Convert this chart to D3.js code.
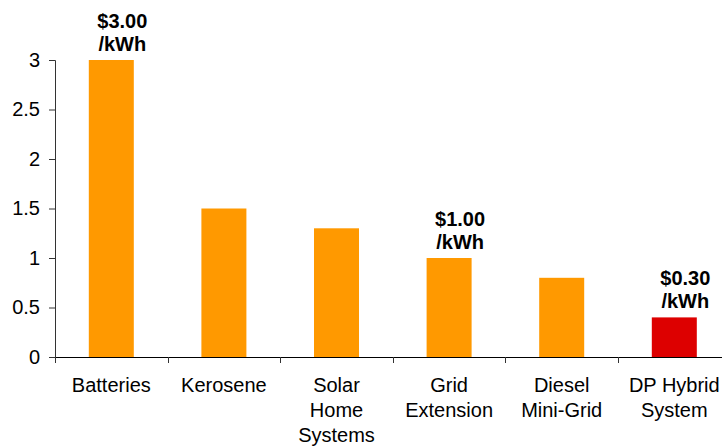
<!DOCTYPE html>
<html><head><meta charset="utf-8">
<script src="https://cdn.jsdelivr.net/npm/d3@7"></script>
<style>body{margin:0;background:#fff;} text{font-family:"Liberation Sans",Arial,sans-serif;}</style>
</head><body><svg id="c" width="722" height="448"></svg>
<script>
const categories = [["Batteries"],["Kerosene"],["Solar","Home","Systems"],["Grid","Extension"],["Diesel","Mini-Grid"],["DP Hybrid","System"]];
const values = [3.0, 1.5, 1.3, 1.0, 0.8, 0.4];
const barColors = ["#FF9900","#FF9900","#FF9900","#FF9900","#FF9900","#DD0000"];
const annotations = [["$3.00","/kWh"],null,null,["$1.00","/kWh"],null,["$0.30","/kWh"]];
const yTicks = [0,0.5,1,1.5,2,2.5,3];

const svg = d3.select("#c");
const x0 = 55, y0 = 357, yTop = 60, band = 112.6;
const x = d3.scaleBand().domain(d3.range(categories.length)).range([x0, x0 + band*categories.length]).paddingInner(0).paddingOuter(0);
const y = d3.scaleLinear().domain([0,3]).range([y0, yTop]);
const barW = 45;

svg.selectAll("rect.bar").data(values).enter().append("rect")
  .attr("x",(d,i)=>x(i)+x.bandwidth()/2-barW/2).attr("width",barW)
  .attr("y",d=>y(d)).attr("height",d=>y0-y(d)).attr("fill",(d,i)=>barColors[i]);

// y axis
const yAxis = d3.axisLeft(y).tickValues(yTicks).tickSize(6).tickPadding(9).tickFormat(d3.format("~g"));
const gy = svg.append("g").attr("transform",`translate(${x0},0)`).call(yAxis);
gy.select(".domain").attr("stroke","#333");
gy.selectAll(".tick line").attr("stroke","#333");
gy.selectAll(".tick text").attr("font-size",20).attr("fill","#000").attr("font-family","Liberation Sans, Arial, sans-serif");

// x axis baseline + tick marks at band boundaries
svg.append("line").attr("x1",x0).attr("x2",722).attr("y1",y0+0.5).attr("y2",y0+0.5).attr("stroke","#000");
svg.selectAll("line.xt").data(d3.range(categories.length)).enter().append("line")
  .attr("x1",i=>Math.round(x(i))+0.5).attr("x2",i=>Math.round(x(i))+0.5)
  .attr("y1",y0).attr("y2",y0+6).attr("stroke","#333");

// category labels
const cl = svg.selectAll("text.cat").data(categories).enter().append("text")
  .attr("text-anchor","middle").attr("font-size",20).attr("fill","#000");
cl.each(function(lines,i){
  const t = d3.select(this);
  lines.forEach((l,j)=>t.append("tspan").attr("x",x(i)+x.bandwidth()/2).attr("y",392+j*25).text(l));
});

// annotations
annotations.forEach((a,i)=>{
  if(!a) return;
  const cx = x(i)+x.bandwidth()/2 + 11;
  const t = svg.append("text").attr("text-anchor","middle").attr("font-size",20).attr("font-weight","bold").attr("fill","#000");
  t.append("tspan").attr("x",cx).attr("y",y(values[i])-32).text(a[0]);
  t.append("tspan").attr("x",cx).attr("y",y(values[i])-9).text(a[1]);
});
</script></body></html>
